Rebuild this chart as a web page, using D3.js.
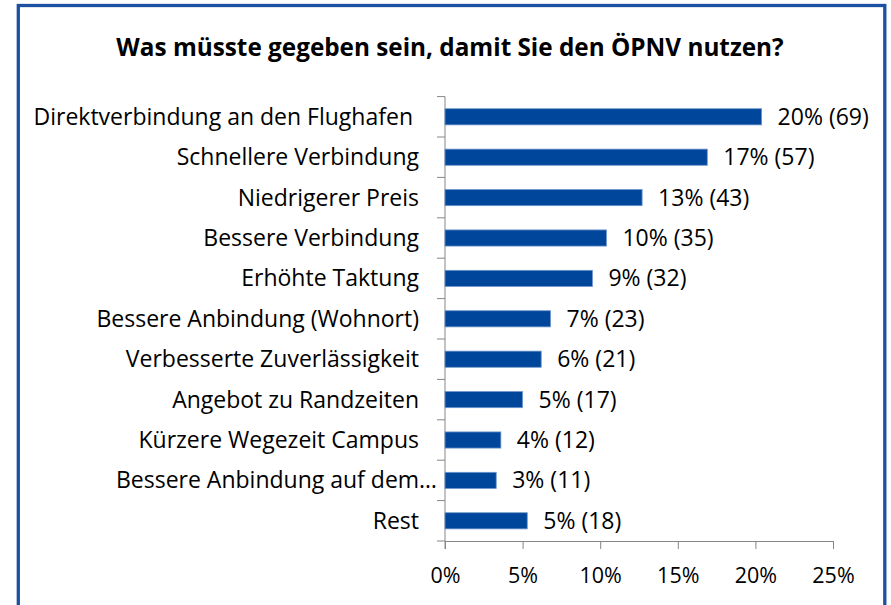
<!DOCTYPE html>
<html>
<head>
<meta charset="utf-8">
<script src="https://cdn.jsdelivr.net/npm/d3@7"></script>
<style>
  html, body { margin: 0; padding: 0; background: #fff; }
  svg { display: block; }
  text { font-family: "Open Sans", "Noto Sans", sans-serif; fill: #000; }
</style>
</head>
<body>
<svg id="chart" width="891" height="605"></svg>
<script>
const title = "Was müsste gegeben sein, damit Sie den ÖPNV nutzen?";
const categories = [
  "Direktverbindung an den Flughafen",
  "Schnellere Verbindung",
  "Niedrigerer Preis",
  "Bessere Verbindung",
  "Erhöhte Taktung",
  "Bessere Anbindung (Wohnort)",
  "Verbesserte Zuverlässigkeit",
  "Angebot zu Randzeiten",
  "Kürzere Wegezeit Campus",
  "Bessere Anbindung auf dem…",
  "Rest"
];
const shares = [20.4, 16.9, 12.7, 10.4, 9.5, 6.8, 6.2, 5.0, 3.6, 3.3, 5.3];
const counts = [69, 57, 43, 35, 32, 23, 21, 17, 12, 11, 18];
const pctLabels = ["20%", "17%", "13%", "10%", "9%", "7%", "6%", "5%", "4%", "3%", "5%"];
const xTicks = [0, 5, 10, 15, 20, 25];

const svg = d3.select("#chart");
const pLeft = 445, pRight = 833, pTop = 96.6, pBottom = 541;

// frame
svg.append("rect")
  .attr("x", 18.3).attr("y", 5.5)
  .attr("width", 866.5).attr("height", 610)
  .attr("fill", "#fff")
  .attr("stroke", "#1c50a1").attr("stroke-width", 3.3);

svg.append("text")
  .attr("x", 450).attr("y", 56)
  .attr("text-anchor", "middle")
  .attr("font-weight", "bold")
  .attr("font-size", 24.3)
  .text(title);

const x = d3.scaleLinear().domain([0, 25]).range([pLeft, pRight]);
const y = d3.scaleBand().domain(categories).range([pTop, pBottom]).paddingInner(0.6).paddingOuter(0.3);
const yb = d3.scaleBand().domain(categories).range([pTop, pBottom]);

const axisColor = "#868686";

// y axis line and boundary ticks
svg.append("line")
  .attr("x1", pLeft).attr("x2", pLeft).attr("y1", pTop).attr("y2", pBottom + 8)
  .attr("stroke", axisColor).attr("stroke-width", 1);
const bounds = categories.map(c => yb(c)).concat([pBottom]);
svg.selectAll("line.yt").data(bounds).enter().append("line")
  .attr("x1", pLeft - 8).attr("x2", pLeft)
  .attr("y1", d => d).attr("y2", d => d)
  .attr("stroke", axisColor);

// x axis
const xAxis = d3.axisBottom(x).tickValues(xTicks).tickSize(8).tickPadding(14)
  .tickFormat(d => d + "%");
const gx = svg.append("g").attr("transform", `translate(0,${pBottom})`).call(xAxis);
gx.select(".domain").attr("stroke", axisColor);
gx.selectAll(".tick line").attr("stroke", axisColor);
gx.selectAll(".tick text").attr("font-size", 21.5).attr("fill", "#000")
  .attr("font-family", '"Open Sans", sans-serif').attr("dy", "0.95em");

// bars
svg.selectAll("rect.bar").data(categories).enter().append("rect")
  .attr("class", "bar")
  .attr("x", x(0))
  .attr("y", c => y(c))
  .attr("width", (c, i) => x(shares[i]) - x(0))
  .attr("height", y.bandwidth())
  .attr("fill", "#00479b")
  .attr("stroke", "#6f95cc").attr("stroke-width", 0.8);

// category labels
svg.selectAll("text.cat").data(categories).enter().append("text")
  .attr("class", "cat")
  .attr("x", (c, i) => c.endsWith("…") ? pLeft - 8 : (i === 0 ? pLeft - 32 : pLeft - 26))
  .attr("y", c => yb(c) + yb.bandwidth() / 2)
  .attr("dy", "0.35em")
  .attr("text-anchor", "end")
  .attr("font-size", 23)
  .text(c => c);

// value labels
svg.selectAll("text.val").data(categories).enter().append("text")
  .attr("class", "val")
  .attr("x", (c, i) => x(shares[i]) + 16)
  .attr("y", c => yb(c) + yb.bandwidth() / 2)
  .attr("dy", "0.35em")
  .attr("font-size", 23)
  .text((c, i) => `${pctLabels[i]} (${counts[i]})`);
</script>
</body>
</html>
